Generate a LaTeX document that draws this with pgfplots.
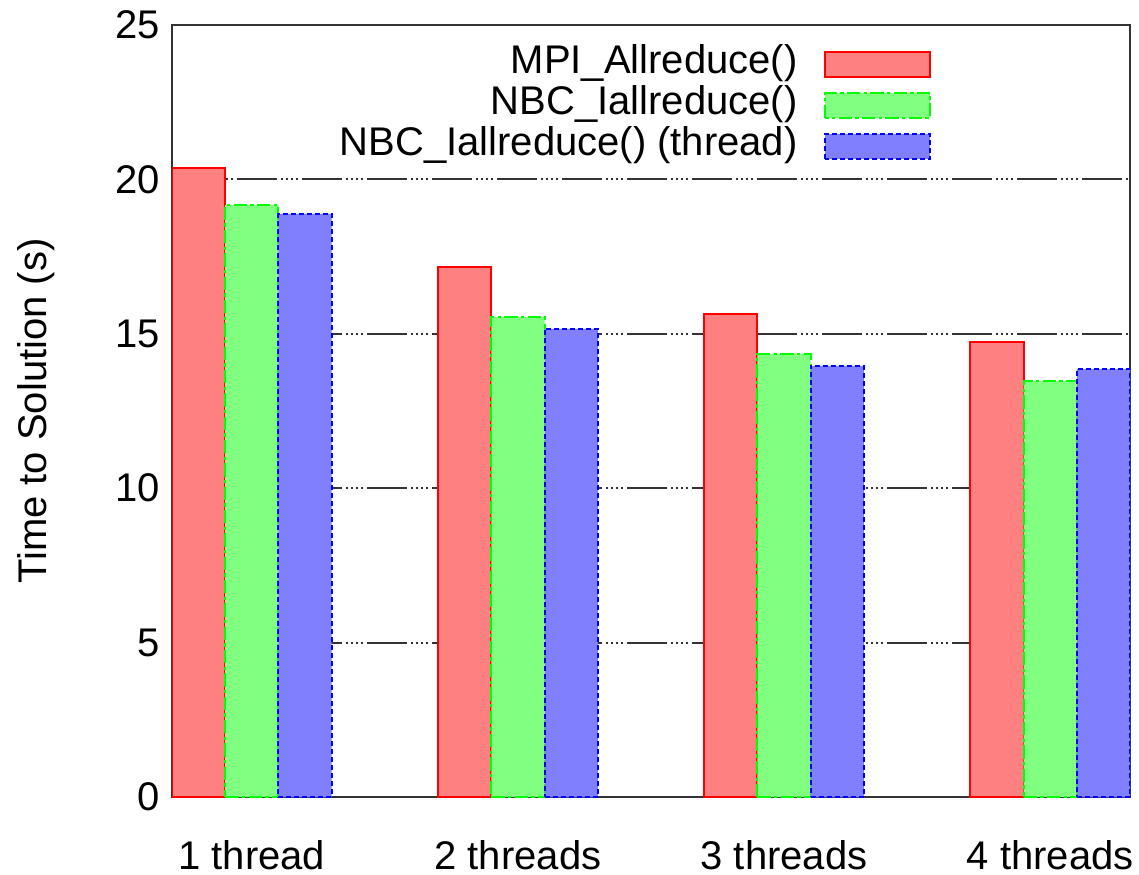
\documentclass[border=0pt]{standalone}
\usepackage{pgfplots}
\pgfplotsset{compat=1.18}
\usepackage{fontspec}
\setmainfont{Liberation Sans}
\definecolor{redfill}{RGB}{255,128,128}
\definecolor{greenfill}{RGB}{128,255,128}
\definecolor{bluefill}{RGB}{128,128,255}
\definecolor{redline}{RGB}{255,0,0}
\definecolor{greenline}{RGB}{0,255,0}
\definecolor{blueline}{RGB}{0,0,255}
\begin{document}
\begin{tikzpicture}[font=\fontsize{12}{14}\selectfont]
\useasboundingbox (-51.6pt,-23.1pt) rectangle (290.1pt,239.1pt);
\begin{axis}[
  scale only axis, width=287.4pt, height=231.6pt,
  at={(0,0)}, anchor=south west,
  xmin=-0.3, xmax=3.3, ymin=0, ymax=25,
  xtick={0,1,2,3},
  xticklabels={1 thread,2 threads,3 threads,4 threads},
  ytick={0,5,10,15,20,25},
  major tick length=0pt,
  /pgf/number format/assume math mode=true,
  ymajorgrids,
  grid style={black!80, line width=0.6pt, dash pattern=on 12pt off 1.2pt on 0.6pt off 0.9pt on 0.6pt off 0.9pt on 0.6pt off 0.9pt on 0.6pt off 1.2pt},
  axis line style={black!80, line width=0.8pt},
  xticklabel style={yshift=-9.5pt},
  ylabel={Time to Solution (s)},
  ylabel style={at={(axis description cs:-0.142,0.5)}, anchor=center},
  ybar,
  bar width=0.2,
  legend image code/.code={\draw[#1] (0pt,-3.75pt) rectangle (31.5pt,3.75pt);},
  legend plot pos=right,
  legend cell align=right,
  legend style={draw=none, fill=none, at={(axis description cs:0.8037,0.985)}, anchor=north east,
    nodes={inner sep=0pt, text height=9pt, text depth=3.3pt}, column sep=8pt},
]
\addplot[fill=redfill, draw=redline, line width=0.6pt, bar shift=-0.2]
  coordinates {(0,20.37) (1,17.16) (2,15.64) (3,14.73)};
\addlegendentry{MPI\_Allreduce()}
\addplot[fill=greenfill, draw=greenline, line width=0.6pt, bar shift=0, dash pattern=on 4pt off 1pt on 1pt off 1pt]
  coordinates {(0,19.17) (1,15.54) (2,14.35) (3,13.47)};
\addlegendentry{NBC\_Iallreduce()}
\addplot[fill=bluefill, draw=blueline, line width=0.6pt, bar shift=0.2, dash pattern=on 1.5pt off 0.9pt]
  coordinates {(0,18.88) (1,15.16) (2,13.96) (3,13.86)};
\addlegendentry{NBC\_Iallreduce() (thread)}
\end{axis}
\end{tikzpicture}
\end{document}
